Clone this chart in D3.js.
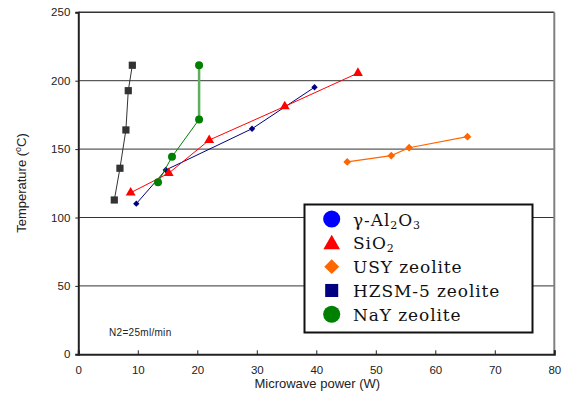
<!DOCTYPE html>
<html><head><meta charset="utf-8">
<script src="https://cdn.jsdelivr.net/npm/d3@7"></script>
<style>body{margin:0;background:#fff}
.leg{font-family:"DejaVu Serif",serif;}
</style></head>
<body><svg id="c" width="565" height="405"></svg>
<script>
// ---- data ----
const xTicks = [0, 10, 20, 30, 40, 50, 60, 70, 80];
const yTicks = [0, 50, 100, 150, 200, 250];
const gridValues = [50, 100, 150, 200];

const squaresX = [6.05, 7.0, 8.0, 8.4, 9.08];
const squaresY = [112.8, 136, 164, 192.7, 211.3];
const circlesX = [13.4, 15.75, 20.3, 20.3];
const circlesY = [125.8, 144.4, 171.7, 211.3];
const trianglesX = [8.8, 15.2, 22.0, 34.7, 47.0];
const trianglesY = [118.1, 132.4, 156.6, 181.2, 205.6];
const navyX = [9.75, 14.7, 29.2, 39.7];
const navyY = [110.1, 134.7, 164.9, 195.2];
const orangeX = [45.2, 52.6, 55.6, 65.4];
const orangeY = [140.6, 145.2, 151, 159.1];

const legendLabels = ["γ-Al_2O_3", "SiO_2", "USY zeolite", "HZSM-5 zeolite", "NaY zeolite"];
const legendShapes = ["circle", "triangle", "diamond", "square", "circle"];
const legendColors = ["#0000ff", "#ff0000", "#ff6600", "#000080", "#008000"];

const xTitle = "Microwave power (W)";
const noteText = "N2=25ml/min";

// ---- layout ----
const svg = d3.select("#c");
const L = 78.3, R = 554.3, T = 12.3, B = 354.3;
const x = d3.scaleLinear().domain([0, 80]).range([L, R]);
const y = d3.scaleLinear().domain([0, 250]).range([B, T]);

// gridlines
svg.append("g").selectAll("line").data(gridValues).join("line")
  .attr("x1", L).attr("x2", R).attr("y1", d => y(d)).attr("y2", d => y(d))
  .attr("stroke", "#333").attr("stroke-width", 1);

// frame top/right
svg.append("line").attr("x1", L).attr("x2", R).attr("y1", T).attr("y2", T)
  .attr("stroke", "#333").attr("stroke-width", 1.5);
svg.append("line").attr("x1", R).attr("x2", R).attr("y1", T).attr("y2", B)
  .attr("stroke", "#808080").attr("stroke-width", 2);

// axes
const font = "'Liberation Sans', Arial, sans-serif";
const yAxis = svg.append("g").attr("transform", `translate(${L},0)`)
  .call(d3.axisLeft(y).tickValues(yTicks).tickSize(3).tickPadding(5));
const xAxis = svg.append("g").attr("transform", `translate(0,${B})`)
  .call(d3.axisBottom(x).tickValues(xTicks).tickSize(-4).tickPadding(12));
[yAxis, xAxis].forEach(g => {
  g.select(".domain").attr("stroke", "#222").attr("stroke-width", 2);
  g.selectAll(".tick line").attr("stroke", "#222").attr("stroke-width", 1);
  g.selectAll("text").attr("font-family", font).attr("font-size", 11.5).attr("fill", "#222");
});

// axis titles
svg.append("text").attr("x", (L + R) / 2 + 1).attr("y", 388).attr("text-anchor", "middle")
  .attr("font-family", font).attr("font-size", 13).attr("fill", "#222").text(xTitle);
const yt = svg.append("text").attr("transform", "translate(26,183) rotate(-90)")
  .attr("text-anchor", "middle").attr("font-family", font).attr("font-size", 13).attr("fill", "#222");
yt.append("tspan").text("Temperature (");
yt.append("tspan").attr("font-size", 9).attr("dy", -5).text("o");
yt.append("tspan").attr("dy", 5).text("C)");

svg.append("text").attr("x", 109).attr("y", 336).attr("font-family", font)
  .attr("font-size", 10).attr("letter-spacing", 0.3).attr("fill", "#222").text(noteText);

// series
function drawSeries(xs, ys, color, lw) {
  const pts = xs.map((v, i) => [x(v), y(ys[i])]);
  svg.append("path").attr("d", d3.line()(pts)).attr("fill", "none")
    .attr("stroke", color).attr("stroke-width", lw);
  return pts;
}
function symbolPath(shape, size) {
  if (shape === "circle") return d3.symbol(d3.symbolCircle, size)();
  if (shape === "triangle") return d3.symbol(d3.symbolTriangle, size)();
  return d3.symbol(d3.symbolSquare, size)();
}
function drawMarkers(pts, shape, size, color) {
  svg.append("g").selectAll("path").data(pts).join("path")
    .attr("d", symbolPath(shape, size))
    .attr("transform", d => `translate(${d[0]},${d[1]})` + (shape === "diamond" ? " rotate(45)" : ""))
    .attr("fill", color);
}

let p = drawSeries(squaresX, squaresY, "#333", 1);
drawMarkers(p, "square", 52, "#333");
p = drawSeries(navyX, navyY, "#000080", 1);
drawMarkers(p, "diamond", 20, "#000080");
p = drawSeries(trianglesX, trianglesY, "#ff0000", 1);
drawMarkers(p, "triangle", 42, "#ff0000");
p = drawSeries(orangeX, orangeY, "#ff6600", 1.2);
drawMarkers(p, "diamond", 30, "#ff6600");
const gp = circlesX.map((v, i) => [x(v), y(circlesY[i])]);
svg.append("path").attr("d", d3.line()(gp.slice(0, 3))).attr("fill", "none")
  .attr("stroke", "#008000").attr("stroke-width", 1);
svg.append("path").attr("d", d3.line()(gp.slice(2))).attr("fill", "none")
  .attr("stroke", "#5fae5f").attr("stroke-width", 2.5);
drawMarkers(gp, "circle", 50, "#008000");

// legend
const lg = svg.append("g");
lg.append("rect").attr("x", 304.5).attr("y", 204.5).attr("width", 228).attr("height", 128)
  .attr("fill", "#fff").attr("stroke", "#111").attr("stroke-width", 2);
const legSizes = { circle: 230, triangle: 120, diamond: 110, square: 170 };
const ly = d3.scaleLinear().domain([0, 4]).range([219, 314.3]);
legendLabels.forEach((lab, i) => {
  const sh = legendShapes[i];
  lg.append("path").attr("d", symbolPath(sh, legSizes[sh]))
    .attr("transform", `translate(331.7,${ly(i) + (sh === "triangle" ? 1.5 : 0)})` + (sh === "diamond" ? " rotate(45)" : ""))
    .attr("fill", legendColors[i]);
  const t = lg.append("text").attr("class", "leg").attr("x", 353).attr("y", ly(i) + 6.5)
    .attr("font-size", 17).attr("letter-spacing", 0.9).attr("fill", "#111");
  const parts = lab.split(/(_\d)/).filter(s => s.length);
  let shifted = false;
  parts.forEach(s => {
    if (s[0] === "_") {
      t.append("tspan").attr("font-size", 11).attr("dy", 3).text(s.slice(1));
      shifted = true;
    } else {
      const ts = t.append("tspan").text(s);
      if (shifted) { ts.attr("dy", -3); shifted = false; }
    }
  });
});
</script></body></html>
